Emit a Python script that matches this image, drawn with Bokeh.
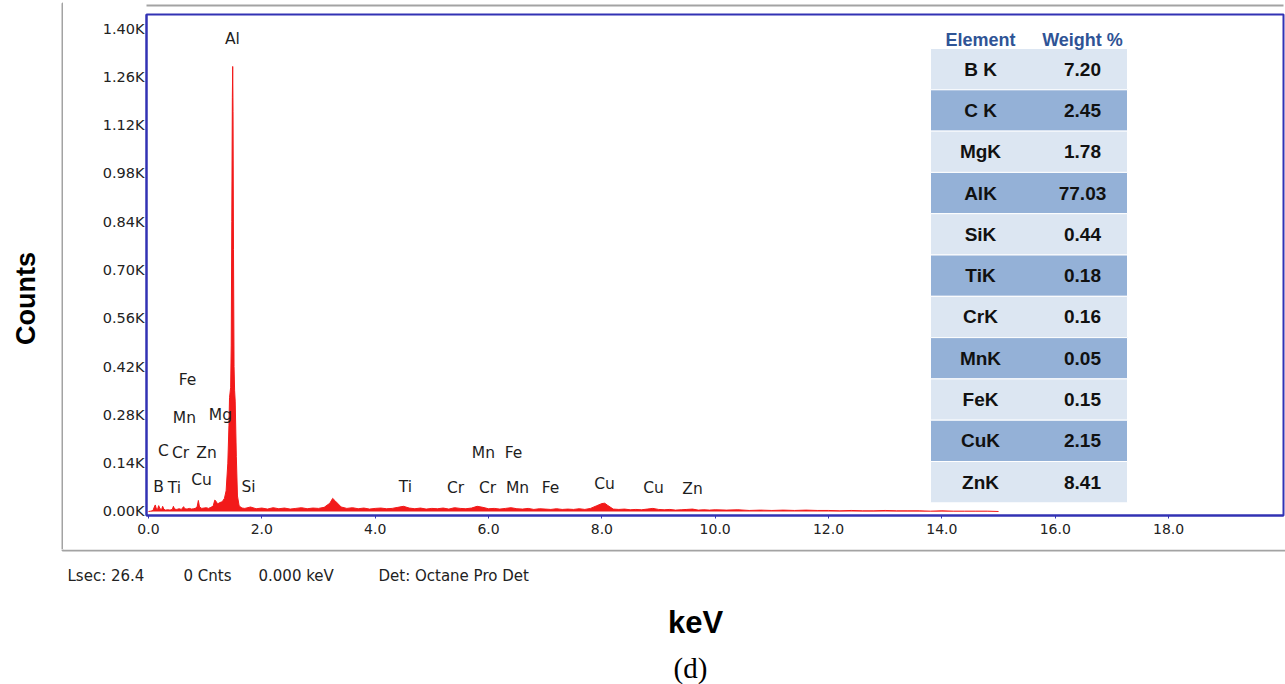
from bokeh.plotting import figure
from bokeh.layouts import column, row
from bokeh.models import Range1d, FixedTicker, ColumnDataSource
from bokeh.core.properties import value
from bokeh.embed import file_html
from bokeh.resources import INLINE

# ---------------- data ----------------
energy_kev = [0.00, 0.04, 0.08, 0.10, 0.12, 0.14, 0.16, 0.18, 0.20, 0.23, 0.25, 0.27, 0.30, 0.34, 0.38,
              0.42, 0.44, 0.46, 0.50, 0.54, 0.58, 0.62, 0.64, 0.68, 0.72, 0.76, 0.80, 0.84, 0.86, 0.88,
              0.90, 0.94, 0.98, 1.02, 1.06, 1.10, 1.14, 1.17, 1.19, 1.22, 1.26, 1.30, 1.34, 1.37, 1.40,
              1.42, 1.43, 1.45, 1.46, 1.47, 1.48, 1.486, 1.492, 1.50, 1.51, 1.52, 1.53, 1.55, 1.57, 1.60,
              1.65,
              1.7, 1.8, 1.9, 2.0, 2.1, 2.2, 2.3, 2.4, 2.5, 2.6, 2.7, 2.8, 2.9, 3.0, 3.1, 3.2, 3.25,
              3.3, 3.4, 3.5, 3.6, 3.7, 3.8, 3.9, 4.0, 4.1, 4.2, 4.3, 4.4, 4.5, 4.6, 4.7, 4.8, 4.9, 5.0,
              5.1, 5.2, 5.3, 5.4, 5.5, 5.6, 5.7, 5.8, 5.9, 6.0, 6.1, 6.2, 6.3, 6.4, 6.5, 6.6, 6.7, 6.8,
              6.9, 7.0, 7.1, 7.2, 7.3, 7.4, 7.5, 7.6, 7.7, 7.8, 7.9, 8.0, 8.05,
              8.1, 8.2, 8.3, 8.4, 8.5, 8.6, 8.7, 8.8, 8.9, 9.0, 9.1, 9.2, 9.3, 9.4, 9.5, 9.6, 9.7, 9.8,
              9.9, 10.0,
              10.2, 10.4, 10.6, 10.8, 11.0, 11.2, 11.4, 11.6, 11.8, 12.0, 12.2, 12.4, 12.6, 12.8, 13.0,
              13.2, 13.4, 13.6, 13.8, 14.0, 14.2, 14.4, 14.6, 14.8, 15.0]
counts = [0, 1, 3, 12, 19, 7, 6, 17, 9, 5, 15, 7, 4, 5, 4,
          6, 15, 7, 6, 8, 6, 14, 8, 7, 9, 7, 8, 10, 15, 32,
          13, 9, 10, 11, 9, 12, 15, 33, 30, 22, 26, 28, 38, 60, 140,
          250, 330, 360, 480, 840, 1200, 1290, 1160, 760, 420, 350, 320, 160, 45, 16,
          10,
          9, 13, 8, 10, 7, 11, 8, 10, 7, 9, 11, 8, 10, 9, 12, 24, 38,
          30, 13, 9, 11, 8, 10, 7, 9, 10, 8, 9, 12, 15, 10, 8, 10, 7, 9,
          8, 10, 7, 11, 9, 8, 10, 15, 12, 8, 9, 7, 9, 11, 8, 7, 9, 6,
          8, 7, 6, 8, 6, 7, 6, 8, 6, 9, 16, 23, 24,
          18, 7, 6, 7, 5, 6, 5, 7, 9, 6, 5, 6, 4, 5, 6, 7, 4, 5,
          4, 5,
          4, 5, 3, 4, 3, 4, 3, 4, 3, 3, 2, 3, 2, 2, 3,
          2, 2, 2, 1, 2, 1, 1, 1, 1, 0]
assert len(energy_kev) == len(counts)

peak_names = ["Al", "Fe", "Mn", "Mg", "C", "Cr", "Zn", "B", "Ti", "Cu", "Si",
              "Ti", "Cr", "Cr", "Mn", "Fe", "Mn", "Fe", "Cu", "Cu", "Zn"]
peak_kev = [1.48, 0.69, 0.635, 1.27, 0.265, 0.565, 1.024, 0.177, 0.459, 0.936, 1.765,
            4.535, 5.417, 5.982, 6.512, 7.094, 5.911, 6.44, 8.047, 8.912, 9.6]
peak_label_counts = [1371, 380, 270, 281, 176, 170, 170, 72, 67, 90, 70,
                     72, 69, 69, 67, 67, 170, 170, 81, 67, 64]

table_elements = ["B K", "C K", "MgK", "AlK", "SiK", "TiK", "CrK", "MnK", "FeK", "CuK", "ZnK"]
table_weights = [7.20, 2.45, 1.78, 77.03, 0.44, 0.18, 0.16, 0.05, 0.15, 2.15, 8.41]
table_headers = ["Element", "Weight %"]

x_tick_values = [0, 2, 4, 6, 8, 10, 12, 14, 16, 18]
x_tick_labels = ["0.0", "2.0", "4.0", "6.0", "8.0", "10.0", "12.0", "14.0", "16.0", "18.0"]
y_tick_values = [0, 140, 280, 420, 560, 700, 840, 980, 1120, 1260, 1400]
y_tick_labels = ["0.00K", "0.14K", "0.28K", "0.42K", "0.56K", "0.70K", "0.84K", "0.98K",
                 "1.12K", "1.26K", "1.40K"]
status_texts = ["Lsec: 26.4", "0 Cnts", "0.000 keV", "Det: Octane Pro Det"]
y_title = "Counts"
x_title = "keV"
caption = "(d)"

# ---------------- layout constants (page pixels) ----------------
W, H = 1285, 684
BOX_L, BOX_T, BOX_B = 63, 3, 550     # grey instrument-window box
LEFT_W = BOX_L                       # strip left of the box (y title)
TOP_STRIP = 10                       # strip holding the top edge of the box
ROW1_H = 549                         # height of the upper row
FL, FR, FT, FB = 146, 1283, 14, 515  # spectrum frame edges in page pixels
X0, X1 = -0.035, 20.028
Y0, Y1 = -11.6, 1440.6
KPP = (X1 - X0) / (FR - FL)
CPP = (Y1 - Y0) / (FB - FT)
GREY = "#a3a3a3"

def kx(px):
    return X0 + (px - FL) * KPP

def cy(py):
    return Y0 + (FB - py) * CPP

BLUE = "#3232b4"
RED = "#f21a1a"
SANS = "DejaVu Sans"
BOLD = "Liberation Sans"

def blank_figure(w, h, x0, y0):
    """A figure whose frame covers its whole canvas, data units = page pixels."""
    f = figure(width=w, height=h, output_backend="svg", toolbar_location=None,
               x_range=Range1d(x0, x0 + w), y_range=Range1d(y0 + h, y0),
               x_axis_location=None, y_axis_location=None,
               min_border=0, min_border_left=0, min_border_right=0,
               min_border_top=0, min_border_bottom=0)
    f.outline_line_color = None
    f.border_fill_color = "white"
    f.background_fill_color = "white"
    f.xgrid.visible = False
    f.ygrid.visible = False
    return f

# ---------------- main spectrum figure ----------------
MAIN_W = W - LEFT_W
MAIN_H = ROW1_H - TOP_STRIP
p = figure(width=MAIN_W, height=MAIN_H, output_backend="svg", toolbar_location=None,
           x_range=Range1d(X0, X1), y_range=Range1d(Y0, Y1),
           min_border_left=FL - LEFT_W, min_border_right=W - FR,
           min_border_top=FT - TOP_STRIP, min_border_bottom=TOP_STRIP + MAIN_H - FB)
p.background_fill_color = "white"
p.border_fill_color = "white"
p.outline_line_color = BLUE
p.outline_line_width = 2
p.xgrid.visible = False
p.ygrid.visible = False

p.xaxis.ticker = FixedTicker(ticks=x_tick_values)
p.xaxis.major_label_overrides = {v: t for v, t in zip(x_tick_values, x_tick_labels)}
p.xaxis.axis_line_color = BLUE
p.xaxis.axis_line_width = 2
p.xaxis.major_tick_line_color = BLUE
p.xaxis.major_tick_out = 3
p.xaxis.major_tick_in = 0
p.xaxis.minor_tick_line_color = None
p.xaxis.major_label_standoff = 5
p.xaxis.major_label_text_font = SANS
p.xaxis.major_label_text_font_size = "14px"
p.xaxis.major_label_text_color = "#222222"

p.yaxis.ticker = FixedTicker(ticks=y_tick_values)
p.yaxis.major_label_overrides = {v: t for v, t in zip(y_tick_values, y_tick_labels)}
p.yaxis.axis_line_color = BLUE
p.yaxis.axis_line_width = 2
p.yaxis.major_tick_out = 0
p.yaxis.major_tick_in = 0
p.yaxis.minor_tick_line_color = None
p.yaxis.major_label_standoff = 2
p.yaxis.major_label_text_font = SANS
p.yaxis.major_label_text_font_size = "14.5px"
p.yaxis.major_label_text_color = "#222222"

src = ColumnDataSource(dict(x=energy_kev, y=counts))
p.varea(x="x", y1=0, y2="y", source=src, fill_color=RED)
p.line(x="x", y="y", source=src, line_color=RED, line_width=1)

p.text(x=peak_kev, y=peak_label_counts, text=peak_names,
       text_font=value(SANS), text_font_size="15.5px", text_color="#1e1e1e",
       text_align="center", text_baseline="middle")

# quantification table
t_left, t_right, t_top, row_h = 930, 1127, 48, 41.3
col1_px, col2_px = 980, 1082
n_rows = len(table_elements)
row_x = (kx(t_left) + kx(t_right)) / 2
row_w = kx(t_right) - kx(t_left)
row_colors = ["#dce6f2" if i % 2 == 0 else "#94b1d7" for i in range(n_rows)]
row_y = [cy(t_top + row_h * (i + 0.5)) for i in range(n_rows)]
p.rect(x=[row_x] * n_rows, y=row_y, width=row_w, height=row_h * CPP,
       fill_color=row_colors, line_color="white", line_width=1)
p.text(x=[kx(col1_px)] * n_rows, y=row_y, text=table_elements,
       text_font=value(BOLD), text_font_style="bold", text_font_size="19px",
       text_color="#111111", text_align="center", text_baseline="middle")
p.text(x=[kx(col2_px)] * n_rows, y=row_y, text=["%.2f" % w for w in table_weights],
       text_font=value(BOLD), text_font_style="bold", text_font_size="19px",
       text_color="#111111", text_align="center", text_baseline="middle")
p.text(x=[kx(col1_px), kx(col2_px)], y=[cy(39), cy(39)], text=table_headers,
       text_font=value(BOLD), text_font_style="bold", text_font_size="18px",
       text_color="#2f5496", text_align="center", text_baseline="middle")

# ---------------- strip above the spectrum: top edge of the grey box ----------------
pt = blank_figure(MAIN_W, TOP_STRIP, LEFT_W, 0)
pt.line(x=[BOX_L - 1, W + 5], y=[BOX_T, BOX_T], line_color=GREY, line_width=2)

# ---------------- left strip: y title and left edge of the grey box ----------------
pl = blank_figure(LEFT_W, ROW1_H, 0, 0)
pl.line(x=[BOX_L - 1, BOX_L - 1, BOX_L + 5], y=[ROW1_H + 2, BOX_T, BOX_T],
        line_color=GREY, line_width=2)
pl.text(x=[25], y=[298], text=[y_title], angle=1.5707963,
        text_font=value(BOLD), text_font_style="bold", text_font_size="27px",
        text_color="black", text_align="center", text_baseline="middle")

# ---------------- bottom strip: box bottom edge, status bar, x title, caption ----------------
BOT_H = H - ROW1_H
pb = blank_figure(W, BOT_H, 0, ROW1_H)
pb.line(x=[BOX_L - 1, BOX_L - 1, W + 5], y=[ROW1_H - 2, BOX_B, BOX_B],
        line_color=GREY, line_width=2)
status_x = [67, 183, 258, 378]
pb.text(x=status_x, y=[575] * len(status_texts), text=status_texts,
        text_font=value(SANS), text_font_size="15px", text_color="#222222",
        text_align="left", text_baseline="middle")
pb.text(x=[695], y=[622], text=[x_title],
        text_font=value(BOLD), text_font_style="bold", text_font_size="31px",
        text_color="black", text_align="center", text_baseline="middle")
pb.text(x=[690], y=[667], text=[caption],
        text_font=value("Liberation Serif"), text_font_size="29px",
        text_color="black", text_align="center", text_baseline="middle")

layout = column(row(pl, column(pt, p, spacing=0), spacing=0), pb, spacing=0)
open("out.html", "w").write(file_html(layout, INLINE))
